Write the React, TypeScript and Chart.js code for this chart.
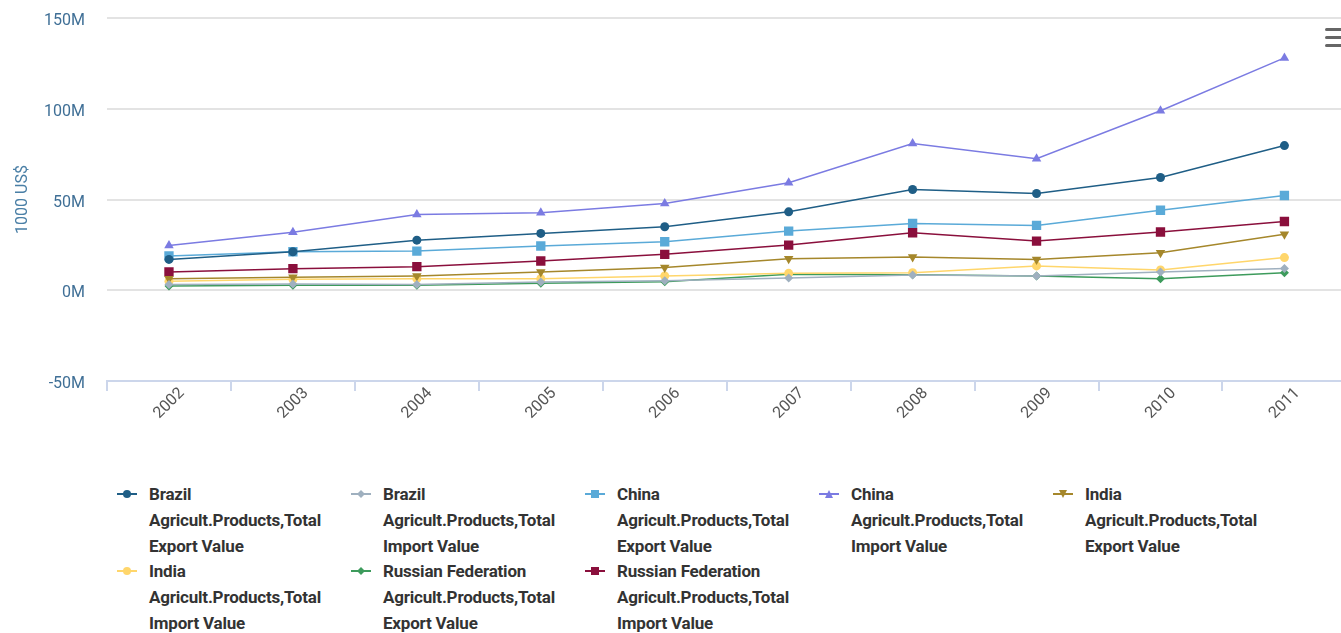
import React, { useEffect, useRef } from "react";
import { Chart, registerables } from "chart.js";

Chart.register(...registerables);

// ---- Data (values in millions of 1000 US$) ----
const years = ["2002", "2003", "2004", "2005", "2006", "2007", "2008", "2009", "2010", "2011"];
const yTicks = [-50, 0, 50, 100, 150];

const brazilExport = [17, 21.2, 27.6, 31.3, 35, 43.2, 55.5, 53.3, 62.1, 79.7];
const brazilImport = [3.1, 3.4, 3.1, 4.6, 5.3, 6.8, 8.4, 7.9, 10, 12];
const chinaExport = [18.9, 21.2, 21.6, 24.4, 26.7, 32.6, 36.8, 35.7, 44.1, 52.2];
const chinaImport = [24.7, 32, 41.8, 42.7, 47.8, 59.2, 80.8, 72.5, 98.9, 128];
const indiaExport = [6.4, 7.1, 7.9, 10.1, 12.5, 17.4, 18.3, 17, 20.7, 30.8];
const indiaImport = [4.9, 6, 6.4, 6.4, 7.9, 9.3, 9.7, 13.4, 11.2, 18];
const russiaExport = [2.4, 2.7, 2.7, 3.8, 4.7, 8.8, 8.6, 7.9, 6.4, 9.7];
const russiaImport = [10.1, 11.9, 13, 16.1, 19.8, 24.9, 31.7, 27.1, 32.1, 37.9];

const seriesLabels: string[][] = [
  ["Brazil", "Agricult.Products,Total", "Export Value"],
  ["Brazil", "Agricult.Products,Total", "Import Value"],
  ["China", "Agricult.Products,Total", "Export Value"],
  ["China", "Agricult.Products,Total", "Import Value"],
  ["India", "Agricult.Products,Total", "Export Value"],
  ["India", "Agricult.Products,Total", "Import Value"],
  ["Russian Federation", "Agricult.Products,Total", "Export Value"],
  ["Russian Federation", "Agricult.Products,Total", "Import Value"],
];
const seriesValues = [
  brazilExport, brazilImport, chinaExport, chinaImport,
  indiaExport, indiaImport, russiaExport, russiaImport,
];
const seriesColors = [
  "#1f5e86", "#9fb0bf", "#5aaad8", "#7b7be2",
  "#a5872b", "#ffd66b", "#3d9b5c", "#8a0f3c",
];
type Marker = "circle" | "diamond" | "square" | "triangle" | "triangleDown";
const seriesMarkers: Marker[] = [
  "circle", "diamond", "square", "triangle",
  "triangleDown", "circle", "diamond", "square",
];

const markerStyle = (m: Marker) => {
  switch (m) {
    case "circle": return { pointStyle: "circle", pointRadius: 4.5, pointRotation: 0 };
    case "diamond": return { pointStyle: "rectRot", pointRadius: 4.5, pointRotation: 0 };
    case "square": return { pointStyle: "rect", pointRadius: 6.6, pointRotation: 0 };
    case "triangle": return { pointStyle: "triangle", pointRadius: 5.5, pointRotation: 0 };
    case "triangleDown": return { pointStyle: "triangle", pointRadius: 5.5, pointRotation: 180 };
  }
};

const LegendIcon = ({ color, marker }: { color: string; marker: Marker }) => {
  let shape: React.ReactNode = null;
  const cx = 10, cy = 8;
  if (marker === "circle") shape = <circle cx={cx} cy={cy} r={4} fill={color} />;
  else if (marker === "square") shape = <rect x={cx - 4} y={cy - 4} width={8} height={8} fill={color} />;
  else if (marker === "diamond") shape = <polygon points={`${cx},${cy - 4} ${cx + 4},${cy} ${cx},${cy + 4} ${cx - 4},${cy}`} fill={color} />;
  else if (marker === "triangle") shape = <polygon points={`${cx},${cy - 4} ${cx + 4},${cy + 4} ${cx - 4},${cy + 4}`} fill={color} />;
  else shape = <polygon points={`${cx - 4},${cy - 4} ${cx + 4},${cy - 4} ${cx},${cy + 4}`} fill={color} />;
  return (
    <svg width={20} height={16} style={{ position: "absolute", left: 0, top: 5 }}>
      <line x1={0} y1={cy} x2={20} y2={cy} stroke={color} strokeWidth={2} />
      {shape}
    </svg>
  );
};

export default function App() {
  const canvasRef = useRef<HTMLCanvasElement | null>(null);

  useEffect(() => {
    if (!canvasRef.current) return;
    const datasets = seriesValues.map((vals, i) => ({
      label: seriesLabels[i].join(" "),
      data: vals,
      borderColor: seriesColors[i],
      backgroundColor: seriesColors[i],
      borderWidth: 1.5,
      tension: 0,
      ...markerStyle(seriesMarkers[i]),
      pointBorderWidth: 0,
    }));
    const chart = new Chart(canvasRef.current, {
      type: "line",
      data: { labels: years, datasets: datasets as any },
      options: {
        animation: false,
        responsive: false,
        devicePixelRatio: 1,
        layout: { padding: { top: 18, left: 0, right: 0, bottom: 0 } },
        plugins: {
          legend: { display: false },
          tooltip: { enabled: false },
        },
        scales: {
          x: {
            type: "category",
            offset: true,
            grid: {
              offset: true,
              drawOnChartArea: false,
              drawTicks: true,
              tickLength: 10,
              color: "#ccd6eb",
              lineWidth: 2,
            },
            border: { display: true, color: "#ccd6eb", width: 2 },
            ticks: {
              autoSkip: false,
              minRotation: 45,
              maxRotation: 45,
              padding: -7,
              labelOffset: 13,
              color: "#555555",
              font: { family: "Roboto", size: 16 },
            },
            afterFit: (scale: any) => { scale.height = 59; },
          },
          y: {
            min: -50,
            max: 150,
            afterBuildTicks: (scale: any) => {
              scale.ticks = yTicks.map((v) => ({ value: v }));
            },
            grid: { color: "#e3e3e3", lineWidth: 2, drawTicks: true, tickLength: 22, tickColor: "rgba(0,0,0,0)" },
            border: { display: false },
            ticks: {
              padding: 0,
              labelOffset: 3,
              color: "#3f6f96",
              font: { family: "Roboto", size: 16 },
              callback: (v: any) => `${v}M`,
            },
            title: {
              display: true,
              text: "1000 US$",
              color: "#4a7fa6",
              font: { family: "Roboto", size: 16 },
              padding: { top: 13, bottom: 0 },
            },
            afterFit: (scale: any) => { scale.width = 107; },
          },
        },
      },
    });
    return () => chart.destroy();
  }, []);

  return (
    <div style={{ position: "absolute", left: 0, top: 0, width: 1341, height: 633, overflow: "hidden", background: "#fff" }}>
      <canvas ref={canvasRef} width={1353} height={440} style={{ position: "absolute", left: 0, top: 0, width: 1353, height: 440 }} />
      {/* context menu icon */}
      {[28, 36, 44].map((t) => (
        <div key={t} style={{ position: "absolute", left: 1325, top: t, width: 20, height: 3, background: "#666", borderRadius: 1.5 }} />
      ))}
      {seriesLabels.map((lines, i) => {
        const col = i % 5;
        const row = Math.floor(i / 5);
        return (
          <div key={i} style={{ position: "absolute", left: 117 + col * 234, top: 481 + row * 77, width: 230 }}>
            <LegendIcon color={seriesColors[i]} marker={seriesMarkers[i]} />
            <div style={{ marginLeft: 32, fontFamily: "Roboto", fontWeight: 700, fontSize: 17, letterSpacing: "-0.2px", lineHeight: "26px", color: "#333", whiteSpace: "nowrap" }}>
              {lines.map((l, k) => <div key={k}>{l}</div>)}
            </div>
          </div>
        );
      })}
    </div>
  );
}
